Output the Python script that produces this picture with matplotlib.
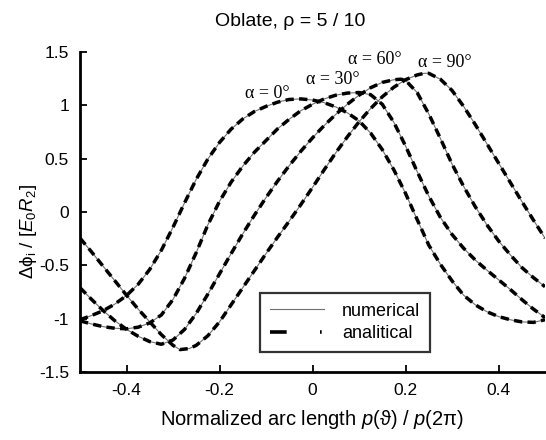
import matplotlib
matplotlib.use("Agg")
import matplotlib.pyplot as plt
from matplotlib.lines import Line2D

plt.rcParams['font.family'] = ['Liberation Sans', 'DejaVu Sans']
plt.rcParams['mathtext.fontset'] = 'custom'
plt.rcParams['mathtext.rm'] = 'Liberation Sans'
plt.rcParams['mathtext.it'] = 'Liberation Sans:italic'
plt.rcParams['axes.unicode_minus'] = False
plt.rcParams['lines.scale_dashes'] = False

# ---- data ----
x_a0 = [-0.5, -0.475, -0.45, -0.425, -0.4, -0.375, -0.35, -0.325, -0.3, -0.275, -0.25, -0.225,
        -0.2, -0.175, -0.15, -0.125, -0.1, -0.075, -0.05, -0.025, 0.0, 0.025, 0.05, 0.075, 0.1,
        0.125, 0.15, 0.175, 0.2, 0.225, 0.25, 0.275, 0.3, 0.325, 0.35, 0.375, 0.4, 0.425, 0.45,
        0.475, 0.5]
y_a0 = [-1.01, -0.97, -0.925, -0.863, -0.783, -0.678, -0.538, -0.358, -0.143, 0.087, 0.307, 0.497,
        0.652, 0.777, 0.872, 0.942, 0.99, 1.03, 1.055, 1.06, 1.05, 1.025, 0.985, 0.93, 0.855,
        0.74, 0.585, 0.395, 0.175, -0.07, -0.31, -0.49, -0.645, -0.78, -0.87, -0.935, -0.98, -1.01, -1.03,
        -1.035, -1.01]

x_a30 = [-0.5, -0.475, -0.45, -0.425, -0.4, -0.375, -0.35, -0.325, -0.3, -0.275, -0.25, -0.225,
         -0.2, -0.175, -0.15, -0.125, -0.1, -0.075, -0.05, -0.025, 0.0, 0.025, 0.05, 0.075, 0.1,
         0.125, 0.15, 0.175, 0.2, 0.225, 0.25, 0.275, 0.3, 0.325, 0.35, 0.375, 0.4, 0.425, 0.45,
         0.475, 0.5]
y_a30 = [-1.02, -1.05, -1.075, -1.09, -1.095, -1.08, -1.04, -0.965, -0.82, -0.62, -0.38, -0.12,
         0.10, 0.28, 0.43, 0.56, 0.67, 0.78, 0.87, 0.95, 1.01, 1.06, 1.095, 1.115, 1.12,
         1.10, 1.01, 0.84, 0.62, 0.38, 0.15, -0.05, -0.21, -0.34, -0.45, -0.545, -0.635, -0.725, -0.82,
         -0.91, -0.99]

x_a60 = [-0.5, -0.475, -0.45, -0.425, -0.4, -0.375, -0.35, -0.325, -0.3, -0.275, -0.25, -0.225,
         -0.2, -0.175, -0.15, -0.125, -0.1, -0.075, -0.05, -0.025, 0.0, 0.025, 0.05, 0.075, 0.1,
         0.125, 0.15, 0.175, 0.19, 0.2, 0.225, 0.25, 0.275, 0.3, 0.325, 0.35, 0.375, 0.4, 0.425,
         0.45, 0.475, 0.5]
y_a60 = [-0.71, -0.82, -0.925, -1.02, -1.10, -1.165, -1.215, -1.24, -1.20, -1.10, -0.95, -0.77,
         -0.58, -0.39, -0.205, -0.03, 0.135, 0.29, 0.435, 0.57, 0.695, 0.81, 0.915, 1.01, 1.095,
         1.165, 1.215, 1.24, 1.245, 1.235, 1.12, 0.92, 0.69, 0.45, 0.24, 0.05, -0.12, -0.27, -0.40,
         -0.52, -0.615, -0.70]

x_a90 = [-0.5, -0.475, -0.45, -0.425, -0.4, -0.375, -0.35, -0.325, -0.3, -0.285, -0.265, -0.25,
         -0.225, -0.2, -0.175, -0.15, -0.125, -0.1, -0.075, -0.05, -0.025, 0.0, 0.025, 0.05, 0.075,
         0.1, 0.125, 0.15, 0.175, 0.2, 0.225, 0.24, 0.25, 0.275, 0.3, 0.325, 0.35, 0.375, 0.4,
         0.425, 0.45, 0.475, 0.5]
y_a90 = [-0.245, -0.375, -0.51, -0.645, -0.78, -0.91, -1.03, -1.15, -1.25, -1.29, -1.28, -1.25,
         -1.16, -1.03, -0.87, -0.71, -0.55, -0.39, -0.235, -0.085, 0.07, 0.23, 0.395, 0.555, 0.705,
         0.845, 0.97, 1.08, 1.17, 1.24, 1.285, 1.30, 1.30, 1.245, 1.14, 0.99, 0.82, 0.64, 0.46,
         0.28, 0.10, -0.075, -0.245]

curves_x = [x_a0, x_a30, x_a60, x_a90]
curves_y = [y_a0, y_a30, y_a60, y_a90]

curve_labels = ['α = 0°', 'α = 30°', 'α = 60°', 'α = 90°']
label_x = [-0.097, 0.043, 0.133, 0.284]
label_y = [1.115, 1.24, 1.425, 1.405]

xticks = [-0.4, -0.2, 0, 0.2, 0.4]
xtick_labels = ['-0.4', '-0.2', '0', '0.2', '0.4']
yticks = [-1.5, -1, -0.5, 0, 0.5, 1, 1.5]
ytick_labels = ['-1.5', '-1', '-0.5', '0', '0.5', '1', '1.5']

legend_labels = ['numerical', 'analitical']

# ---- figure ----
fig = plt.figure(figsize=(5.46, 4.40), dpi=100)
ax = fig.add_axes([80 / 546, 1 - 372 / 440, 465 / 546, 320 / 440])

DASH = (6, 3.8)
for xs, ys in zip(curves_x, curves_y):
    ax.plot(xs, ys, color='#707070', lw=0.8, zorder=2, solid_joinstyle='round')
    ax.plot(xs, ys, color='black', lw=2.5, dashes=DASH, zorder=3, dash_capstyle='butt')

for t, lx, ly in zip(curve_labels, label_x, label_y):
    ax.text(lx, ly, t, ha='center', va='center', fontsize=13,
            family=['Liberation Serif', 'DejaVu Serif'])

ax.set_xlim(-0.5, 0.5)
ax.set_ylim(-1.5, 1.5)
ax.set_xticks(xticks)
ax.set_xticklabels(xtick_labels)
ax.set_yticks(yticks)
ax.set_yticklabels(ytick_labels)
ax.tick_params(direction='in', length=5, width=1.3, labelsize=12.5, pad=8)
for s in ['top', 'right']:
    ax.spines[s].set_visible(False)
for s in ['left', 'bottom']:
    ax.spines[s].set_linewidth(2.0)

ax.set_xlabel('Normalized arc length $p$(ϑ) / $p$(2π)', fontsize=14.5, labelpad=7)
ax.set_ylabel('Δϕ$_{\\rm i}$ / [$E_0R_2$]', fontsize=13.5)
ax.yaxis.set_label_coords(-0.088, 0.44)

fig.text(290 / 546, 1 - 22 / 440, 'Oblate, ρ = 5 / 10', ha='center', va='center', fontsize=14)

h1 = Line2D([], [], color='#707070', lw=0.8)
h2 = Line2D([], [], color='black', lw=2.6, dashes=(12, 24, 1.2, 30))
leg = ax.legend([h1, h2], legend_labels, loc='lower left', bbox_to_anchor=(0.387, 0.0625),
                borderaxespad=0, fontsize=13, handlelength=3.0, handletextpad=1.0,
                borderpad=0.55, labelspacing=0.3, fancybox=False, frameon=True)
leg.get_frame().set_edgecolor('black')
leg.get_frame().set_linewidth(1.6)

fig.savefig('out.png', dpi=100)
